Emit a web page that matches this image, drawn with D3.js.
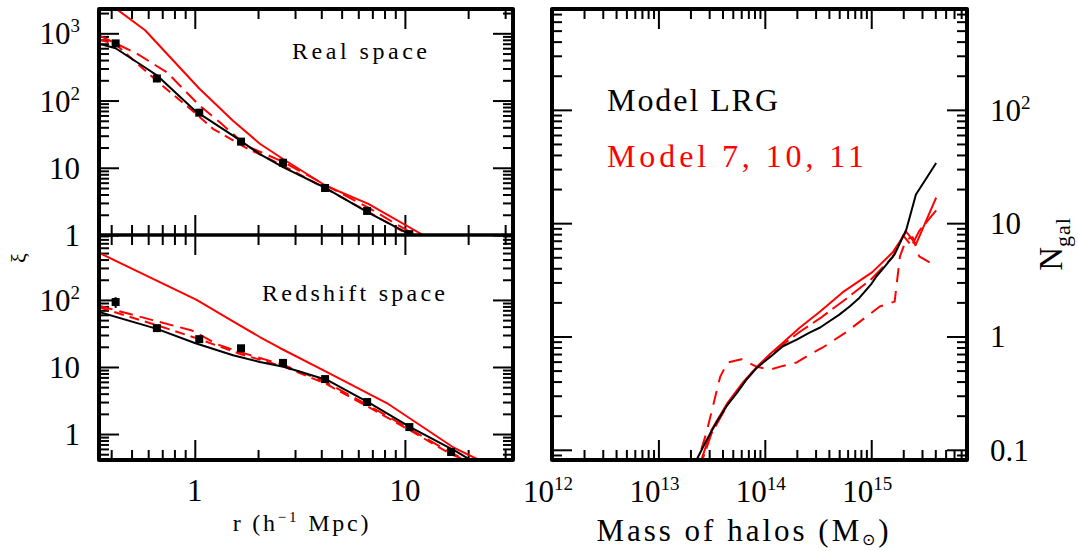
<!DOCTYPE html>
<html>
<head>
<meta charset="utf-8">
<script src="https://cdn.jsdelivr.net/npm/d3@7"></script>
<style>
body { margin: 0; background: #fff; }
text { font-family: "Liberation Serif", serif; fill: #000; }
</style>
</head>
<body>
<svg id="chart" width="1078" height="551"></svg>
<script>
// measured xi(r) of the LRG sample (black squares)
var rBins    = [0.42, 0.66, 1.05, 1.66, 2.63, 4.17, 6.61, 10.5, 16.6];
var realObs  = [708, 213, 66, 24.5, 11.9, 5.0, 2.28, 1.03];
var realErr  = [70, 18, 6, 2.5, 0.9, 0.4, 0.2, 0.1];
var zObs     = [93, 38, 26, 19, 11.5, 6.6, 3.0, 1.27, 0.54];
var zErr     = [17, 4, 3, 1.5, 0.8, 0.4, 0.2, 0.1, 0.05];

// real space model curves
var rRealLRG = [0.35, 0.42, 0.59, 0.66, 1.0, 1.52, 2.04, 2.63, 4.2, 6.7, 10.5, 14];
var realLRG  = [700, 600, 300, 237, 71, 30, 16, 10.2, 5.0, 2.15, 1.03, 0.6];
var rRealM7  = [0.42, 0.58, 1.05, 1.52, 2.04, 2.63, 4.2, 6.7, 12.2, 14];
var realM7   = [2350, 1110, 151, 50, 22.8, 13.5, 5.4, 2.9, 1.0, 0.75];
var rRealM10 = [0.35, 0.53, 0.74, 1.05, 1.32, 1.77, 2.63, 4.2, 6.7, 10.5, 13];
var realM10  = [930, 500, 260, 85, 47, 21, 12.3, 5.5, 2.55, 1.12, 0.8];
var rRealM11 = [0.35, 0.42, 0.66, 1.0, 1.22, 1.77, 2.63, 4.2, 6.7, 10.5, 13];
var realM11  = [810, 690, 195, 66, 38, 19.5, 10.8, 4.9, 2.2, 1.0, 0.72];

// redshift space model curves
var rZLRG = [0.35, 0.66, 1.0, 1.52, 2.04, 2.68, 4.26, 6.8, 10.6, 17.7, 22];
var zLRG  = [66, 37, 22.8, 15, 11.9, 10, 6.4, 2.9, 1.27, 0.54, 0.36];
var rZM7  = [0.35, 1.02, 1.52, 2.04, 2.54, 4.26, 8.2, 16.9, 22.5];
var zM7   = [505, 100, 48, 28, 19.2, 8.4, 2.9, 0.64, 0.41];
var rZM10 = [0.35, 0.63, 0.97, 1.27, 1.66, 2.63, 4.17, 6.6, 10.5, 16.6, 21];
var zM10  = [82, 50, 35, 22, 16.5, 10.8, 6.0, 2.75, 1.2, 0.52, 0.38];
var rZM11 = [0.35, 0.55, 0.66, 1.05, 1.66, 2.63, 4.17, 6.6, 10.5, 16.6, 21];
var zM11  = [78, 50, 42, 26, 15.5, 10.2, 5.7, 2.6, 1.15, 0.5, 0.37];

// halo occupation, log10 of mass
var mLRG = [13.33, 13.36, 13.45, 13.55, 13.65, 13.74, 13.83, 13.925, 14.05, 14.17, 14.30, 14.42, 14.52, 14.60, 14.70, 14.80, 14.89, 15.0, 15.05, 15.15, 15.22, 15.33, 15.42, 15.52, 15.61];
var nLRG = [0.065, 0.082, 0.12, 0.178, 0.25, 0.32, 0.42, 0.53, 0.66, 0.82, 0.94, 1.08, 1.2, 1.35, 1.56, 1.85, 2.2, 2.9, 3.4, 4.4, 5.3, 8.8, 17.9, 25, 34];
var mM7  = [13.35, 13.39, 13.5, 13.65, 13.8, 13.925, 14.05, 14.17, 14.33, 14.52, 14.73, 15.01, 15.20, 15.33, 15.42, 15.61];
var nM7  = [0.065, 0.075, 0.15, 0.26, 0.4, 0.54, 0.7, 0.88, 1.2, 1.66, 2.45, 3.7, 5.5, 8.4, 6.5, 16.8];
var mM10 = [13.37, 13.4, 13.5, 13.65, 13.8, 13.925, 14.05, 14.17, 14.33, 14.52, 14.75, 15.0, 15.2, 15.3, 15.38, 15.45, 15.61];
var nM10 = [0.065, 0.075, 0.14, 0.25, 0.39, 0.53, 0.68, 0.85, 1.1, 1.45, 2.1, 3.2, 5.0, 7.8, 6.3, 8.5, 13];
var mM11 = [13.34, 13.36, 13.45, 13.58, 13.65, 13.78, 13.925, 14.05, 14.17, 14.30, 14.42, 14.545, 14.77, 14.86, 15.08, 15.22, 15.27, 15.33, 15.39, 15.45, 15.55];
var nM11 = [0.065, 0.075, 0.14, 0.44, 0.59, 0.63, 0.54, 0.51, 0.55, 0.59, 0.69, 0.8, 1.1, 1.28, 1.84, 2.03, 5.1, 7.2, 7.5, 5.1, 4.5];

// tick values
var rTicks = [1, 10];
var xiTopTicks = [1, 10, 100, 1000];
var xiBotTicks = [1, 10, 100];
var massTicks = [12, 13, 14, 15];
var nTicks = [0.1, 1, 10, 100];

var RED = "#ff0000";

var svg = d3.select("#chart");

var xR   = d3.scaleLog().domain([0.35, 32.7]).range([99, 513]);
var yTop = d3.scaleLog().domain([1, 2300]).range([235, 9]);
var yBot = d3.scaleLog().domain([0.41, 930]).range([460, 235]);
var xM   = d3.scaleLog().domain([1e12, Math.pow(10, 15.9)]).range([552, 967]);
var yN   = d3.scaleLog().domain([Math.pow(10, -1.09), Math.pow(10, 2.89)]).range([460, 9]);

var defs = svg.append("defs");
function addClip(id, x, y, w, h) {
	defs.append("clipPath").attr("id", id)
		.append("rect").attr("x", x).attr("y", y).attr("width", w).attr("height", h);
}
addClip("cTop", 99, 9, 414, 226);
addClip("cBot", 99, 235, 414, 225);
addClip("cRight", 552, 9, 415, 451);

function isDecade(d) {
	var l = Math.log10(d);
	return Math.abs(l - Math.round(l)) < 1e-6;
}

function ticks(axisFn, scale, tx, ty) {
	var major = scale.ticks().filter(isDecade);
	var minor = scale.ticks().filter(function(d) { return !isDecade(d); });
	[[major, 20], [minor, 10]].forEach(function(p) {
		var g = svg.append("g")
			.attr("transform", "translate(" + tx + "," + ty + ")")
			.call(axisFn(scale).tickValues(p[0]).tickSizeInner(-p[1]).tickSizeOuter(0).tickFormat(""));
		g.select(".domain").remove();
		g.selectAll("line").attr("stroke", "#000").attr("stroke-width", 2);
	});
}

function drawLine(clip, xs, ys, xScale, yScale, color, dash, logx) {
	var pts = xs.map(function(x, i) { return [logx ? Math.pow(10, x) : x, ys[i]]; });
	svg.append("path")
		.datum(pts)
		.attr("clip-path", "url(#" + clip + ")")
		.attr("fill", "none")
		.attr("stroke", color)
		.attr("stroke-width", 2)
		.attr("stroke-linejoin", "round")
		.attr("stroke-dasharray", dash)
		.attr("d", d3.line()
			.x(function(d) { return xScale(d[0]); })
			.y(function(d) { return yScale(d[1]); }));
}

function drawPoints(clip, ys, errs, yScale) {
	var g = svg.append("g").attr("clip-path", "url(#" + clip + ")");
	var data = ys.map(function(v, i) { return {r: rBins[i], v: v, e: errs[i]}; });
	g.selectAll("line.err").data(data).enter().append("line")
		.attr("x1", function(d) { return xR(d.r); })
		.attr("x2", function(d) { return xR(d.r); })
		.attr("y1", function(d) { return yScale(d.v + d.e); })
		.attr("y2", function(d) { return yScale(Math.max(d.v - d.e, 0.01)); })
		.attr("stroke", "#000").attr("stroke-width", 2);
	g.selectAll("rect").data(data).enter().append("rect")
		.attr("x", function(d) { return xR(d.r) - 4; })
		.attr("y", function(d) { return yScale(d.v) - 4; })
		.attr("width", 8).attr("height", 8)
		.attr("fill", "#000");
}

// left panels: ticks
ticks(d3.axisBottom, xR, 0, 235);
ticks(d3.axisTop, xR, 0, 9);
ticks(d3.axisLeft, yTop, 99, 0);
ticks(d3.axisRight, yTop, 513, 0);
ticks(d3.axisTop, xR, 0, 235);
ticks(d3.axisBottom, xR, 0, 460);
ticks(d3.axisLeft, yBot, 99, 0);
ticks(d3.axisRight, yBot, 513, 0);
// right panel: ticks
ticks(d3.axisBottom, xM, 0, 460);
ticks(d3.axisTop, xM, 0, 9);
ticks(d3.axisLeft, yN, 552, 0);
ticks(d3.axisRight, yN, 967, 0);

// real space curves
drawLine("cTop", rRealM7, realM7, xR, yTop, RED, null);
drawLine("cTop", rRealM10, realM10, xR, yTop, RED, "14,7");
drawLine("cTop", rRealM11, realM11, xR, yTop, RED, "10,6");
drawLine("cTop", rRealLRG, realLRG, xR, yTop, "#000", null);
drawPoints("cTop", realObs, realErr, yTop);

// redshift space curves
drawLine("cBot", rZM7, zM7, xR, yBot, RED, null);
drawLine("cBot", rZM10, zM10, xR, yBot, RED, "14,7");
drawLine("cBot", rZM11, zM11, xR, yBot, RED, "10,6");
drawLine("cBot", rZLRG, zLRG, xR, yBot, "#000", null);
drawPoints("cBot", zObs, zErr, yBot);

// halo occupation
drawLine("cRight", mM7, nM7, xM, yN, RED, null, true);
drawLine("cRight", mM10, nM10, xM, yN, RED, "18,6", true);
drawLine("cRight", mM11, nM11, xM, yN, RED, "14,9", true);
drawLine("cRight", mLRG, nLRG, xM, yN, "#000", null, true);

// frames
svg.append("rect").attr("x", 99).attr("y", 9).attr("width", 414).attr("height", 451)
	.attr("fill", "none").attr("stroke", "#000").attr("stroke-width", 4).attr("stroke-linejoin", "round");
svg.append("line").attr("x1", 99).attr("x2", 513).attr("y1", 235).attr("y2", 235)
	.attr("stroke", "#000").attr("stroke-width", 3.5);
svg.append("rect").attr("x", 552).attr("y", 9).attr("width", 415).attr("height", 451)
	.attr("fill", "none").attr("stroke", "#000").attr("stroke-width", 4).attr("stroke-linejoin", "round");

// labels with optional superscript
function powLabel(x, y, exp, anchor) {
	var t = svg.append("text").attr("x", x).attr("y", y)
		.attr("text-anchor", anchor).attr("font-size", 31);
	if (exp === 0) { t.text("1"); return; }
	if (exp === 1) { t.text("10"); return; }
	if (exp === -1) { t.text("0.1"); return; }
	t.append("tspan").text("10");
	t.append("tspan").attr("dy", -12).attr("font-size", 19).text(exp);
}

xiTopTicks.forEach(function(v) { powLabel(80, yTop(v) + 11, Math.round(Math.log10(v)), "end"); });
xiBotTicks.forEach(function(v) { powLabel(80, yBot(v) + 11, Math.round(Math.log10(v)), "end"); });
rTicks.forEach(function(v) { powLabel(xR(v), 501, Math.round(Math.log10(v)), "middle"); });
massTicks.forEach(function(v) { powLabel(xM(Math.pow(10, v)) - 4, 502, v, "middle"); });
nTicks.forEach(function(v) { powLabel(990, yN(v) + 11, Math.round(Math.log10(v)), "start"); });

// annotations
svg.append("text").attr("x", 292).attr("y", 59).attr("font-size", 24)
	.attr("textLength", 135).attr("lengthAdjust", "spacing").text("Real space");
svg.append("text").attr("x", 262).attr("y", 301).attr("font-size", 24)
	.attr("textLength", 183).attr("lengthAdjust", "spacing").text("Redshift space");
svg.append("text").attr("x", 607).attr("y", 111).attr("font-size", 32)
	.attr("textLength", 171).attr("lengthAdjust", "spacing").text("Model LRG");
svg.append("text").attr("x", 607).attr("y", 167).attr("font-size", 32).attr("fill", RED)
	.style("fill", RED)
	.attr("textLength", 257).attr("lengthAdjust", "spacing").text("Model 7, 10, 11");

// axis titles
var rt = svg.append("text").attr("x", 302).attr("y", 531).attr("text-anchor", "middle")
	.attr("font-size", 24).attr("letter-spacing", 2.8);
rt.append("tspan").text("r (h");
rt.append("tspan").attr("dy", -9).attr("font-size", 15).text("\u22121");
rt.append("tspan").attr("dy", 9).text(" Mpc)");

var mt = svg.append("text").attr("x", 744).attr("y", 541).attr("text-anchor", "middle")
	.attr("font-size", 31).attr("letter-spacing", 3);
mt.append("tspan").text("Mass of halos (M");
mt.append("tspan").attr("dy", 4).attr("font-size", 16).text("\u2299");
mt.append("tspan").attr("dy", -4).text(")");

var nt = svg.append("text").attr("transform", "translate(1062,244) rotate(-90)")
	.attr("text-anchor", "middle").attr("font-size", 33);
nt.append("tspan").text("N");
nt.append("tspan").attr("dy", 8).attr("font-size", 22).attr("letter-spacing", 1).text("gal");

svg.append("text").attr("transform", "translate(26,258) rotate(-90)")
	.attr("text-anchor", "middle").attr("font-size", 22).text("\u03be");
</script>
</body>
</html>
